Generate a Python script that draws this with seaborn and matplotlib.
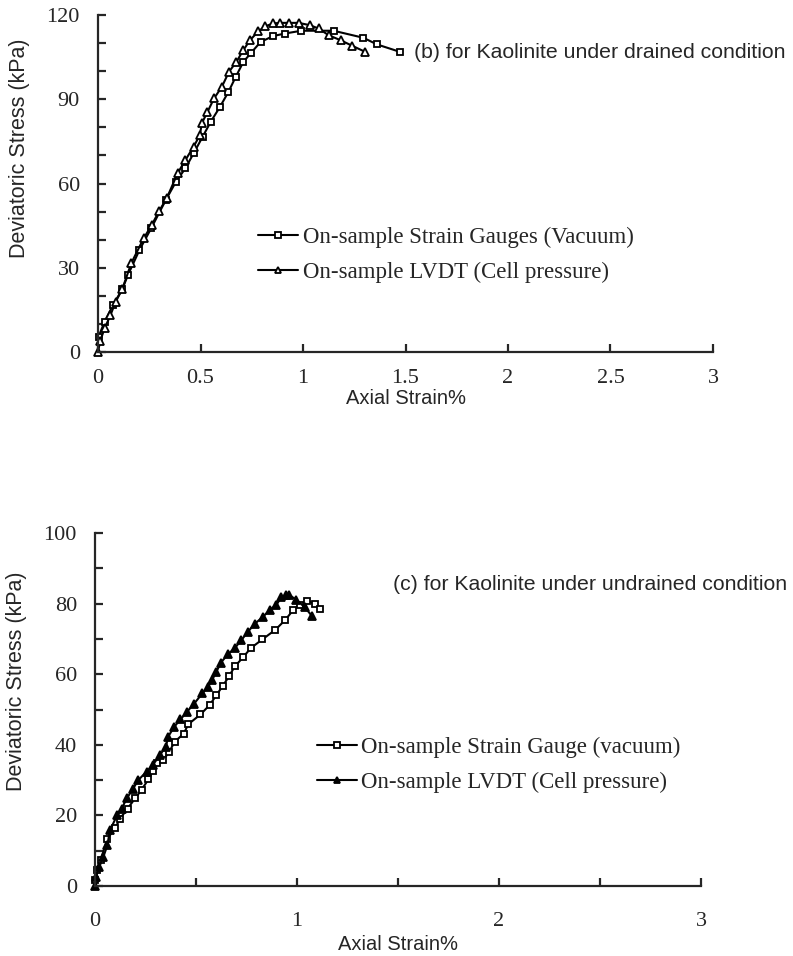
import numpy as np
import pandas as pd
import matplotlib
matplotlib.use("Agg")
import matplotlib.pyplot as plt
from matplotlib.ticker import MultipleLocator
import seaborn as sns

# (b) drained: on-sample strain gauges (vacuum)
b_sg_x = [0.003, 0.032, 0.073, 0.118, 0.146, 0.202, 0.259, 0.332, 0.380, 0.426, 0.466, 0.510,
          0.550, 0.595, 0.636, 0.672, 0.709, 0.744, 0.793, 0.854, 0.911, 0.992, 1.149, 1.294,
          1.362, 1.472]
b_sg_y = [5.5, 10.8, 16.7, 22.3, 27.4, 36.3, 44.0, 54.3, 60.6, 65.4, 70.7, 76.6,
          82.0, 87.3, 92.6, 98.0, 103.3, 106.3, 110.4, 112.5, 113.4, 114.4, 114.4, 111.9,
          109.5, 106.9]
# (b) drained: on-sample LVDT (cell pressure)
b_lv_x = [0.0, 0.011, 0.032, 0.060, 0.086, 0.118, 0.162, 0.223, 0.262, 0.299, 0.335, 0.388,
          0.426, 0.466, 0.497, 0.506, 0.534, 0.566, 0.604, 0.639, 0.675, 0.709, 0.741, 0.782,
          0.817, 0.854, 0.890, 0.934, 0.979, 1.032, 1.076, 1.125, 1.184, 1.241, 1.303]
b_lv_y = [0.1, 4.0, 8.4, 13.0, 17.9, 22.3, 31.6, 40.5, 45.2, 50.3, 54.7, 63.6,
          68.3, 73.1, 77.2, 81.4, 85.5, 90.3, 94.4, 99.8, 103.3, 107.5, 111.0, 114.2,
          116.0, 117.0, 117.2, 117.2, 117.2, 116.4, 115.2, 112.8, 111.0, 109.0, 106.9]

# (c) undrained: on-sample strain gauge (vacuum)
c_sg_x = [0.0, 0.008, 0.028, 0.061, 0.099, 0.124, 0.161, 0.198, 0.231, 0.264, 0.285, 0.308,
          0.338, 0.367, 0.395, 0.440, 0.461, 0.522, 0.568, 0.601, 0.634, 0.664, 0.692, 0.733,
          0.771, 0.829, 0.893, 0.942, 0.980, 1.013, 1.051, 1.087, 1.112]
c_sg_y = [1.6, 4.4, 7.3, 13.4, 16.3, 19.1, 21.9, 24.8, 27.3, 30.2, 32.6, 34.9,
          35.7, 38.0, 40.9, 43.2, 45.8, 48.6, 51.3, 54.1, 56.8, 59.5, 62.2, 64.8,
          67.4, 69.9, 72.6, 75.4, 78.1, 79.7, 80.8, 79.9, 78.4]
# (c) undrained: on-sample LVDT (cell pressure)
c_lv_x = [0.0, 0.005, 0.021, 0.041, 0.061, 0.074, 0.110, 0.132, 0.157, 0.189, 0.214, 0.255,
          0.285, 0.321, 0.351, 0.362, 0.392, 0.423, 0.456, 0.491, 0.532, 0.560, 0.580, 0.601,
          0.623, 0.659, 0.692, 0.725, 0.758, 0.791, 0.832, 0.865, 0.898, 0.923, 0.945, 0.960,
          0.997, 1.038, 1.074]
c_lv_y = [0.0, 2.6, 5.4, 8.2, 11.5, 15.8, 20.1, 21.9, 24.8, 27.6, 30.0, 32.4,
          34.2, 37.1, 39.5, 42.3, 45.1, 47.2, 49.4, 51.7, 54.6, 56.5, 58.4, 60.7,
          63.3, 65.7, 67.4, 69.7, 72.1, 74.3, 76.3, 78.2, 79.7, 81.8, 82.4, 82.5,
          81.1, 79.0, 76.5]

sns.set_style("ticks")
plt.rcParams['font.family'] = ['Liberation Serif', 'DejaVu Serif']
plt.rcParams['xtick.direction'] = 'in'
plt.rcParams['ytick.direction'] = 'in'

fig = plt.figure(figsize=(7.93, 9.56), dpi=100)
ax1 = fig.add_axes([0.1236, 0.6318, 0.7755, 0.3525])
ax2 = fig.add_axes([0.1198, 0.0732, 0.7642, 0.3692])

sans = ['Liberation Sans', 'DejaVu Sans']


def draw(ax, x1, y1, x2, y2, lab1, lab2, tri_fill):
    sns.lineplot(x=x1, y=y1, ax=ax, sort=False, estimator=None, color='black', lw=1.5,
                 marker='s', markersize=5, markerfacecolor='white', markeredgecolor='black',
                 markeredgewidth=1.3, label=lab1, clip_on=False)
    sns.lineplot(x=x2, y=y2, ax=ax, sort=False, estimator=None, color='black', lw=1.5,
                 marker='^', markersize=5.5, markerfacecolor=tri_fill, markeredgecolor='black',
                 markeredgewidth=1.3, label=lab2, clip_on=False)
    for s in ['top', 'right']:
        ax.spines[s].set_visible(False)
    for s in ['left', 'bottom']:
        ax.spines[s].set_linewidth(1.6)
    ax.tick_params(which='both', length=6, width=1.6, labelsize=16)
    ax.set_xlim(0, 3)
    ax.set_xlabel('Axial Strain%', family=sans, fontsize=14.5)
    ax.set_ylabel('Deviatoric Stress (kPa)', family=sans, fontsize=15.5)


draw(ax1, b_sg_x, b_sg_y, b_lv_x, b_lv_y,
     'On-sample Strain Gauges (Vacuum)', 'On-sample LVDT (Cell pressure)', 'white')
ax1.set_ylim(0, 120)
ax1.yaxis.set_major_locator(MultipleLocator(30))
ax1.yaxis.set_minor_locator(MultipleLocator(10))
ax1.set_xticks([0, 0.5, 1, 1.5, 2, 2.5, 3], ['0', '0.5', '1', '1.5', '2', '2.5', '3'])
ax1.tick_params(axis='x', pad=12)
ax1.tick_params(axis='y', pad=13)
ax1.xaxis.set_label_coords(0.5, -0.11)
ax1.yaxis.set_label_coords(-0.11, 0.605)
ax1.text(1.54, 106.8, '(b) for Kaolinite under drained condition', family=sans, fontsize=15.3,
         va='center', ha='left', clip_on=False)
ax1.legend(loc='center left', bbox_to_anchor=(0.26, 0.288), frameon=False,
           fontsize=16.5, handlelength=1.75, handletextpad=0.2, labelspacing=0.6,
           borderaxespad=0, borderpad=0, markerscale=0.75)

draw(ax2, c_sg_x, c_sg_y, c_lv_x, c_lv_y,
     'On-sample Strain Gauge (vacuum)', 'On-sample LVDT (Cell pressure)', 'black')
ax2.set_ylim(0, 100)
ax2.yaxis.set_major_locator(MultipleLocator(20))
ax2.yaxis.set_minor_locator(MultipleLocator(10))
ax2.set_xticks([0, 1, 2, 3], ['0', '1', '2', '3'])
ax2.xaxis.set_minor_locator(MultipleLocator(0.5))
ax2.tick_params(axis='x', pad=19)
ax2.tick_params(axis='y', pad=13)
ax2.xaxis.set_label_coords(0.5, -0.139)
ax2.yaxis.set_label_coords(-0.112, 0.58)
ax2.text(1.475, 85.3, '(c) for Kaolinite under undrained condition', family=sans, fontsize=15.3,
         va='center', ha='left', clip_on=False)
ax2.legend(loc='center left', bbox_to_anchor=(0.366, 0.343), frameon=False,
           fontsize=16.5, handlelength=1.75, handletextpad=0.2, labelspacing=0.6,
           borderaxespad=0, borderpad=0, markerscale=0.75)

fig.savefig('out.png', dpi=100)
